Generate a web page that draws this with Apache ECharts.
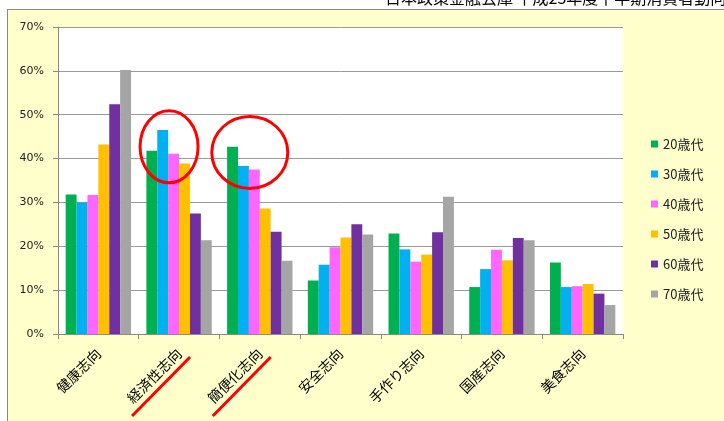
<!DOCTYPE html>
<html>
<head>
<meta charset="utf-8">
<script src="https://cdn.jsdelivr.net/npm/echarts@6/dist/echarts.min.js"></script>
<style>
  html, body { margin: 0; padding: 0; background: #fff; }
  #wrap { position: relative; width: 724px; height: 421px; overflow: hidden; background: #fff; }
  #frame { position: absolute; left: 7px; top: 9px; width: 800px; height: 500px; background: #ffffcc; border: 1px solid #8a8a8a; }
  #chart { position: absolute; left: 0; top: 0; width: 724px; height: 421px; }
</style>
</head>
<body>
<div id="wrap">
  <div id="frame"></div>
  <div id="chart"></div>
</div>
<script>
const categories = ['健康志向', '経済性志向', '簡便化志向', '安全志向', '手作り志向', '国産志向', '美食志向']
const ageGroups = ['20歳代', '30歳代', '40歳代', '50歳代', '60歳代', '70歳代']
const colors = ['#00b050', '#00b0f0', '#ff66ff', '#ffc000', '#7030a0', '#a5a5a5']

// percent, one array per age group, in category order
const age20 = [31.8, 41.8, 42.7, 12.2, 22.9, 10.7, 16.3]
const age30 = [30.0, 46.5, 38.3, 15.8, 19.3, 14.8, 10.7]
const age40 = [31.7, 41.1, 37.5, 19.8, 16.5, 19.2, 10.9]
const age50 = [43.2, 38.9, 28.6, 22.0, 18.1, 16.8, 11.4]
const age60 = [52.4, 27.5, 23.3, 25.0, 23.2, 21.9, 9.2]
const age70 = [60.2, 21.4, 16.7, 22.7, 31.3, 21.4, 6.6]
const seriesData = [age20, age30, age40, age50, age60, age70]

const yTicks = [0, 10, 20, 30, 40, 50, 60, 70]
const highlighted = [1, 2] // 経済性志向, 簡便化志向

const fontLatin = '"DejaVu Sans", "Noto Sans CJK JP", sans-serif'
const fontJp = '"Noto Sans CJK JP", sans-serif'

const chart = echarts.init(document.getElementById('chart'))

chart.setOption({
  animation: false,
  backgroundColor: 'transparent',
  grid: {
    left: 58, right: 101, top: 27, bottom: 87,
    show: true, backgroundColor: '#fff', borderWidth: 0,
  },
  legend: {
    orient: 'vertical',
    left: 651, top: 137, padding: 0,
    itemWidth: 7, itemHeight: 7, itemGap: 16,
    icon: 'rect',
    textStyle: { fontFamily: fontJp, fontSize: 13, color: '#222', lineHeight: 14 },
    data: ageGroups,
  },
  xAxis: {
    type: 'category',
    data: categories,
    axisLine: { lineStyle: { color: '#8a8a8a' } },
    axisTick: { show: true, length: 5, lineStyle: { color: '#8a8a8a' } },
    axisLabel: {
      rotate: 45, margin: 17, interval: 0,
      fontFamily: fontJp, fontSize: 14, color: '#000',
    },
  },
  yAxis: {
    type: 'value',
    min: yTicks[0], max: yTicks[yTicks.length - 1], interval: 10,
    axisLine: { show: true, lineStyle: { color: '#8a8a8a' } },
    axisTick: { show: true, length: 5, lineStyle: { color: '#8a8a8a' } },
    axisLabel: {
      margin: 14, fontFamily: fontLatin, fontSize: 11, color: '#222',
      formatter: v => v + '%',
    },
    splitLine: { lineStyle: { color: '#9a9a9a', width: 1 } },
  },
  series: ageGroups.map((name, i) => ({
    name,
    type: 'bar',
    data: seriesData[i],
    barGap: '0%',
    barCategoryGap: '19%',
    itemStyle: { color: colors[i] },
  })),
})

// red annotations anchored to the axes
function drawMarks() {
  const els = [{
    type: 'text',
    left: 385, top: -10,
    style: { text: '日本政策金融公庫 平成25年度下半期消費者動向調査', font: '16px ' + fontJp, fill: '#000' },
  }]
  const y0 = chart.convertToPixel({ yAxisIndex: 0 }, 0)
  highlighted.forEach((ci, k) => {
    const cx = chart.convertToPixel({ xAxisIndex: 0 }, ci)
    const cy = chart.convertToPixel({ yAxisIndex: 0 }, k === 0 ? 42.7 : 41.4)
    els.push({
      type: 'ellipse',
      shape: { cx: cx - 10, cy: cy, rx: k === 0 ? 29 : 38, ry: 36 },
      style: { fill: 'none', stroke: '#ff0000', lineWidth: 3 },
      z: 100,
    })
    els.push({
      type: 'line',
      shape: { x1: cx - 47, y1: y0 + 82, x2: cx + 11, y2: y0 + 23 },
      style: { stroke: '#ff0000', lineWidth: 3 },
      z: 100,
    })
  })
  chart.setOption({ graphic: els })
}
drawMarks()
</script>
</body>
</html>
